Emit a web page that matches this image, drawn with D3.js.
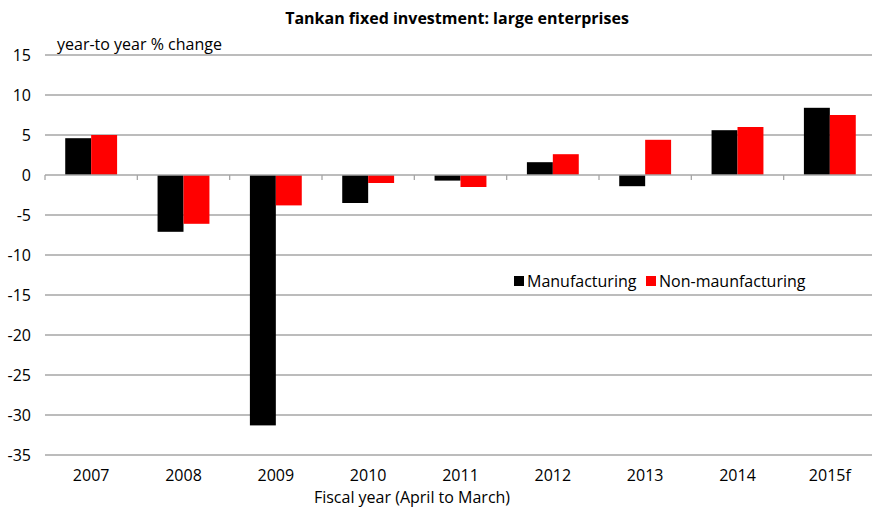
<!DOCTYPE html>
<html>
<head>
<meta charset="utf-8">
<script src="https://cdn.jsdelivr.net/npm/d3@7"></script>
<style>
  body { margin: 0; background: #fff; }
  text { font-family: "Open Sans", "Noto Sans", sans-serif; fill: #000; }
</style>
</head>
<body>
<div class="plot"></div>
<script>
// data
var years = ["2007", "2008", "2009", "2010", "2011", "2012", "2013", "2014", "2015f"];
var manufacturing = [4.6, -7.1, -31.3, -3.5, -0.7, 1.6, -1.4, 5.6, 8.4];
var nonManufacturing = [5.0, -6.1, -3.8, -1.0, -1.5, 2.6, 4.4, 6.0, 7.5];
var yTicks = [15, 10, 5, 0, -5, -10, -15, -20, -25, -30, -35];
var seriesNames = ["Manufacturing", "Non-maunfacturing"];
var seriesColors = ["#000000", "#ff0000"];

var W = 872, H = 509;
var svg = d3.select(".plot").append("svg")
    .attr("width", W).attr("height", H);

var x = d3.scaleBand().domain(years).range([45, 876]).paddingInner(0).paddingOuter(0);
var y = d3.scaleLinear().domain([-35, 15]).range([455, 55]);
var xs = d3.scaleBand().domain([0, 1]).range([0, x.bandwidth()]).paddingInner(0).paddingOuter(0.78);

// gridlines
svg.append("g").selectAll("line")
  .data(yTicks.filter(function(d){ return d !== 0; }))
  .enter().append("line")
    .attr("x1", 45).attr("x2", W)
    .attr("y1", function(d){ return y(d); })
    .attr("y2", function(d){ return y(d); })
    .style("stroke", "#a6a6a6").style("stroke-width", 1.3);

// y labels
svg.append("g").selectAll("text")
  .data(yTicks).enter().append("text")
    .attr("x", 31).attr("y", function(d){ return y(d); })
    .attr("dy", "0.35em").attr("text-anchor", "end")
    .style("font-size", "16px")
    .text(function(d){ return d; });

// bars
var rows = years.map(function(yr, i){ return {year: yr, vals: [manufacturing[i], nonManufacturing[i]]}; });
var grp = svg.append("g").selectAll("g")
  .data(rows).enter().append("g")
    .attr("transform", function(d){ return "translate(" + x(d.year) + ",0)"; });
grp.selectAll("rect")
  .data(function(d){ return d.vals.map(function(v, k){ return {k: k, v: v}; }); })
  .enter().append("rect")
    .attr("x", function(d){ return xs(d.k); })
    .attr("width", xs.bandwidth())
    .attr("y", function(d){ return y(Math.max(0, d.v)); })
    .attr("height", function(d){ return Math.abs(y(d.v) - y(0)); })
    .attr("fill", function(d){ return seriesColors[d.k]; });

// zero axis with ticks at category boundaries
var axisG = svg.append("g").attr("transform", "translate(0," + y(0) + ")");
axisG.append("line").attr("x1", 45).attr("x2", W)
    .style("stroke", "#a6a6a6").style("stroke-width", 1.3);
axisG.selectAll(".tk")
  .data(years).enter().append("line")
    .attr("x1", function(d){ return x(d); }).attr("x2", function(d){ return x(d); })
    .attr("y1", 0).attr("y2", 5)
    .style("stroke", "#a6a6a6").style("stroke-width", 1.3);

// category labels
svg.append("g").selectAll("text")
  .data(years).enter().append("text")
    .attr("x", function(d){ return x(d) + x.bandwidth() / 2; })
    .attr("y", 481).attr("text-anchor", "middle")
    .style("font-size", "16px")
    .text(function(d){ return d; });

svg.append("text").attr("x", 412).attr("y", 503).attr("text-anchor", "middle")
    .style("font-size", "16px").text("Fiscal year (April to March)");

svg.append("text").attr("x", 457).attr("y", 24).attr("text-anchor", "middle")
    .style("font-size", "16px").style("font-weight", "bold")
    .text("Tankan fixed investment: large enterprises");

svg.append("text").attr("x", 57).attr("y", 50)
    .style("font-size", "16px").text("year-to year % change");

// legend
var lx = [514, 646];
seriesNames.forEach(function(n, i){
  svg.append("rect").attr("x", lx[i]).attr("y", 276).attr("width", 10).attr("height", 10)
    .attr("fill", seriesColors[i]);
  svg.append("text").attr("x", lx[i] + 13).attr("y", 287)
    .style("font-size", "16px").text(n);
});
</script>
</body>
</html>
